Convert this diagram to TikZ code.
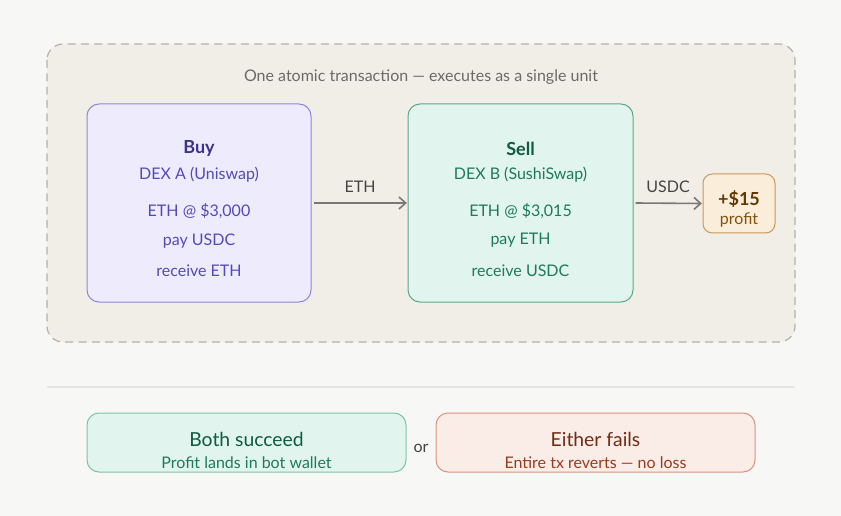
\documentclass[tikz,border=0pt]{standalone}
\usepackage{fontspec}
\setmainfont{Lato}
\usetikzlibrary{arrows.meta}
\definecolor{bgc}{HTML}{F7F7F5}
\definecolor{outerfill}{HTML}{F1EEE7}
\definecolor{outerdraw}{HTML}{B4B2AC}
\definecolor{titlec}{HTML}{6B6A66}
\definecolor{pfill}{HTML}{EEECFC}
\definecolor{pdraw}{HTML}{8F86D8}
\definecolor{ptitle}{HTML}{3C3489}
\definecolor{ptext}{HTML}{534AB7}
\definecolor{gfill}{HTML}{E1F5EE}
\definecolor{gdraw}{HTML}{5DA88A}
\definecolor{gdrawl}{HTML}{80C2A8}
\definecolor{gtitle}{HTML}{0F5A41}
\definecolor{gtext}{HTML}{1D7A5A}
\definecolor{ofill}{HTML}{FAEEDA}
\definecolor{odraw}{HTML}{C8975A}
\definecolor{otitle}{HTML}{633806}
\definecolor{otext}{HTML}{854F0B}
\definecolor{rfill}{HTML}{FAECE7}
\definecolor{rdraw}{HTML}{D8937E}
\definecolor{rtitle}{HTML}{712B13}
\definecolor{rtext}{HTML}{993C1D}
\definecolor{arrc}{HTML}{7A7874}
\definecolor{labc}{HTML}{444441}
\definecolor{sepc}{HTML}{E6E5E1}
\tikzset{
  box/.style={rounded corners=9pt, line width=0.75pt},
  ttl/.style={font=\fontsize{13.5}{15}\selectfont\bfseries, anchor=center, inner sep=0pt, yshift=-1.5pt},
  txt/.style={font=\fontsize{12}{14}\selectfont, anchor=center, inner sep=0pt, yshift=-1.2pt},
  conn/.style={draw=arrc, line width=1.2pt, -{Straight Barb[length=5pt,width=9pt]}},
}
\begin{document}
\begin{tikzpicture}[x=0.75pt,y=-0.75pt]
\fill[bgc] (0,0) rectangle (841,516);
\useasboundingbox (0,0) rectangle (841,516);
% outer dashed container
\draw[fill=outerfill, draw=outerdraw, line width=0.9pt, dash pattern=on 6pt off 4pt, rounded corners=12pt] (47,44) rectangle (795,342);
\node[txt, text=titlec] (title) at (421,75) {One atomic transaction — executes as a single unit};
% buy box
\node[box, draw=pdraw, fill=pfill, minimum width=224*0.75pt, minimum height=198*0.75pt, yshift=0pt] (buy) at (199,203) {};
\node[ttl, text=ptitle] (buyt) at (199,147) {Buy};
\node[txt, text=ptext] (buy1) at (199,173) {DEX A (Uniswap)};
\node[txt, text=ptext] (buy2) at (199,209) {ETH @ \$3,000};
\node[txt, text=ptext] (buy3) at (199,239) {pay USDC};
\node[txt, text=ptext] (buy4) at (199,269) {receive ETH};
% sell box
\node[box, draw=gdraw, fill=gfill, minimum width=225*0.75pt, minimum height=198*0.75pt] (sell) at (520.5,203) {};
\node[ttl, text=gtitle] (sellt) at (520.5,147) {Sell};
\node[txt, text=gtext] (sell1) at (520.5,173) {DEX B (SushiSwap)};
\node[txt, text=gtext] (sell2) at (520.5,209) {ETH @ \$3,015};
\node[txt, text=gtext] (sell3) at (520.5,239) {pay ETH};
\node[txt, text=gtext] (sell4) at (520.5,269) {receive USDC};
% profit box
\node[box, rounded corners=7pt, draw=odraw, fill=ofill, minimum width=72*0.75pt, minimum height=59*0.75pt] (profit) at (739,203.5) {};
\node[ttl, text=otitle] (profitt) at (739,197) {+\$15};
\node[txt, text=otext] (profit1) at (739,218) {profit};
% connectors
\draw[conn] ([xshift=1.5pt]buy.east) -- ([xshift=-0.5pt]sell.west);
\node[txt, text=labc] (ethl) at (360,185) {ETH};
\draw[conn] ([xshift=1.5pt]sell.east) -- ([xshift=-0.5pt]profit.west);
\node[txt, text=labc] (usdcl) at (668,185) {USDC};
% separator
\draw[sepc, line width=1.5pt] (47,387) -- (795,387);
% outcomes
\node[box, draw=gdrawl, fill=gfill, minimum width=319*0.75pt, minimum height=59*0.75pt] (succ) at (246.5,442.5) {};
\node[txt, font=\fontsize{14.5}{16}\selectfont, text=gtitle] (succt) at (246.5,438) {Both succeed};
\node[txt, text=gtext] (succ1) at (246.5,461) {Profit lands in bot wallet};
\node[txt, text=labc] (orl) at (421,447) {or};
\node[box, draw=rdraw, fill=rfill, minimum width=319*0.75pt, minimum height=59*0.75pt] (fail) at (595.5,442.5) {};
\node[txt, font=\fontsize{14.5}{16}\selectfont, text=rtitle] (failt) at (595.5,438) {Either fails};
\node[txt, text=rtext] (fail1) at (595.5,461) {Entire tx reverts — no loss};
\end{tikzpicture}
\end{document}
